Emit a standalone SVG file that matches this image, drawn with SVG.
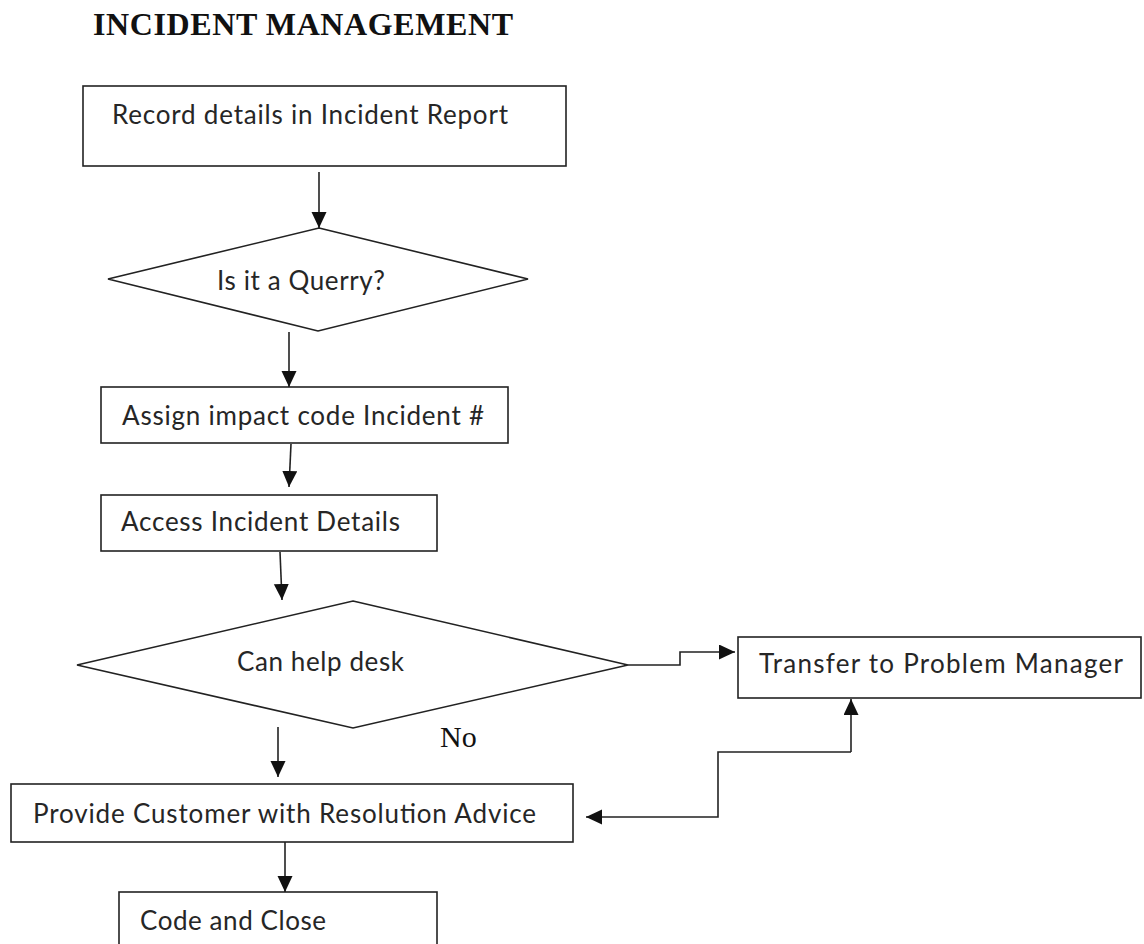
<svg xmlns="http://www.w3.org/2000/svg" width="1144" height="944" viewBox="0 0 1144 944">
  <style>
    .shape { fill: #ffffff; stroke: #222222; stroke-width: 1.6; }
    .link { fill: none; stroke: #222222; stroke-width: 1.6; }
    .label { font-family: Lato, "Open Sans", "Liberation Sans", sans-serif; font-size: 26px; fill: #262626; }
    .serif { font-family: "Liberation Serif", "Times New Roman", serif; fill: #111111; }
  </style>
  <defs>
    <marker id="arrow" markerUnits="userSpaceOnUse" markerWidth="17" markerHeight="16" refX="16" refY="7.5" orient="auto">
      <path d="M0,0 L16,7.5 L0,15 z" fill="#111111"/>
    </marker>
  </defs>

  <rect width="1144" height="944" fill="#ffffff"/>

  <text class="serif" x="93" y="35" font-size="32" font-weight="bold" textLength="420">INCIDENT MANAGEMENT</text>

  <g id="record">
    <rect class="shape" x="83" y="86" width="483" height="80"/>
    <text class="label" x="112" y="124" textLength="396">Record details in Incident Report</text>
  </g>

  <g id="is-query">
    <polygon class="shape" points="319,228 528,279 318,331 108,279"/>
    <text class="label" x="217" y="290" textLength="168">Is it a Querry?</text>
  </g>

  <g id="assign">
    <rect class="shape" x="101" y="387" width="407" height="56"/>
    <text class="label" x="122" y="425" textLength="362">Assign impact code Incident #</text>
  </g>

  <g id="access">
    <rect class="shape" x="101" y="495" width="336" height="56"/>
    <text class="label" x="121" y="531" textLength="279">Access Incident Details</text>
  </g>

  <g id="can-help">
    <polygon class="shape" points="353,601 628,665 353,728 77,665"/>
    <text class="label" x="237" y="671" textLength="167">Can help desk</text>
  </g>

  <g id="transfer">
    <rect class="shape" x="738" y="637" width="403" height="61"/>
    <text class="label" x="759" y="673" textLength="364">Transfer to Problem Manager</text>
  </g>

  <g id="provide">
    <rect class="shape" x="11" y="784" width="562" height="58"/>
    <text class="label" x="33" y="823" textLength="503">Provide Customer with Resolution Advice</text>
  </g>

  <g id="close">
    <rect class="shape" x="119" y="892" width="318" height="80"/>
    <text class="label" x="140" y="930" textLength="186">Code and Close</text>
  </g>

  <g id="connectors">
    <line class="link" x1="319" y1="172" x2="319" y2="228" marker-end="url(#arrow)"/>
    <line class="link" x1="289" y1="332" x2="289" y2="387" marker-end="url(#arrow)"/>
    <line class="link" x1="291" y1="444" x2="289" y2="487" marker-end="url(#arrow)"/>
    <line class="link" x1="280" y1="552" x2="282" y2="600" marker-end="url(#arrow)"/>
    <polyline class="link" points="628,665 680,665 680,652 735,652" marker-end="url(#arrow)"/>
    <line class="link" x1="278" y1="727" x2="278" y2="777" marker-end="url(#arrow)"/>
    <polyline class="link" points="851,752 851,699" marker-end="url(#arrow)"/>
    <polyline class="link" points="851,752 718,752 718,817 586,817" marker-end="url(#arrow)"/>
    <line class="link" x1="285" y1="842" x2="285" y2="892" marker-end="url(#arrow)"/>
    <text class="serif" x="440" y="747" font-size="30">No</text>
  </g>
</svg>
